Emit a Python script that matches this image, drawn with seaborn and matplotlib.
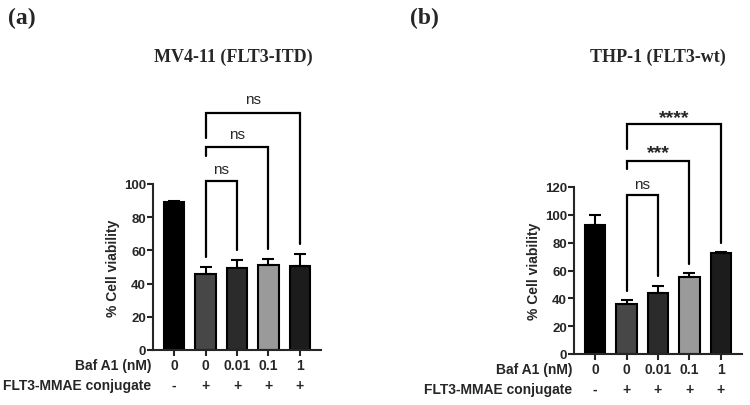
import numpy as np
import pandas as pd
import matplotlib
matplotlib.use("Agg")
import matplotlib.pyplot as plt
import matplotlib.transforms as mtransforms
import seaborn as sns

# Data
baf_labels = ["0", "0", "0.01", "0.1", "1"]
conj_labels = ["-", "+", "+", "+", "+"]
groups = ["g0", "g1", "g2", "g3", "g4"]
bar_colors = ["#000000", "#474747", "#2b2b2b", "#9a9a9a", "#1c1c1c"]

mv4_mean = [89, 45.5, 49.5, 51.5, 50.5]
mv4_err = [1, 4.5, 4.5, 3.5, 7.5]
thp_mean = [93, 36, 44, 55.5, 72.5]
thp_err = [7, 2.5, 5, 3, 1]

# brackets: (i, j, top, left leg end, right leg end, label, label y)
mv4_brackets = [
    (1, 2, 102, 56, 60, "ns", 109),
    (1, 3, 122, 117, 61, "ns", 130),
    (1, 4, 143, 128, 64, "ns", 151),
]
thp_brackets = [
    (1, 2, 114, 45, 56, "ns", 122),
    (1, 3, 139, 133, 65, "***", 145),
    (1, 4, 165, 147, 80, "****", 170),
]

sns.set_theme(style="ticks")
plt.rcParams["font.family"] = ["Liberation Sans", "DejaVu Sans"]

fig = plt.figure(figsize=(7.5, 4.06), dpi=100)


def panel(rect, means, errs, ymax, ystep, brackets, title, letter, letter_x, title_x):
    ax = fig.add_axes(rect)
    df = pd.DataFrame({"group": groups, "val": means})
    sns.barplot(data=df, x="group", y="val", hue="group", palette=bar_colors,
                errorbar=None, width=0.66, edgecolor="black", linewidth=1.5,
                legend=False, ax=ax)
    ax.errorbar(range(len(means)), means, yerr=[[0] * len(errs), errs],
                fmt="none", ecolor="black", elinewidth=1.5, capsize=4, capthick=1.5)
    ax.set_ylim(0, ymax)
    ax.set_xlim(-0.67, 4.67)
    ax.set_yticks(np.arange(0, ymax + 1, ystep))
    ax.set_xticks(range(5))
    ax.set_xticklabels([])
    ax.set_xlabel("")
    ax.set_ylabel("% Cell viability", fontsize=10, fontweight="bold", labelpad=3)
    for lbl in ax.get_yticklabels():
        lbl.set_fontweight("bold")
    ax.tick_params(axis="y", labelsize=9.5, width=1.5, length=4, pad=1)
    ax.tick_params(axis="x", width=1.5, length=4)
    sns.despine(ax=ax)
    for s in ["left", "bottom"]:
        ax.spines[s].set_linewidth(1.5)

    # row labels under the bars
    trans = mtransforms.blended_transform_factory(ax.transData, ax.transAxes)
    for k in range(5):
        ax.text(k, -0.09, baf_labels[k], transform=trans, ha="center", va="center",
                fontsize=10, fontweight="bold")
        ax.text(k, -0.21, conj_labels[k], transform=trans, ha="center", va="center",
                fontsize=10, fontweight="bold")
    ax.text(-0.72, -0.09, "Baf A1 (nM)", transform=trans, ha="right", va="center",
            fontsize=10, fontweight="bold")
    ax.text(-0.72, -0.21, "FLT3-MMAE conjugate", transform=trans, ha="right", va="center",
            fontsize=10, fontweight="bold")

    # significance brackets
    for i, j, top, yl, yr, lab, ly in brackets:
        ax.plot([i, i, j, j], [yl, top, top, yr], color="black", lw=1.6,
                clip_on=False, solid_joinstyle="miter")
        if "*" in lab:
            ax.text((i + j) / 2, ly, lab, ha="center", va="center", fontsize=14,
                    fontweight="bold")
        else:
            ax.text((i + j) / 2, ly, lab, ha="center", va="center", fontsize=11)

    fig.text(title_x, 1 - 57 / 406, title, ha="center", va="center",
             fontsize=13, fontweight="bold", family=["Liberation Serif", "DejaVu Serif"])
    fig.text(letter_x, 1 - 18 / 406, letter, ha="left", va="center",
             fontsize=17, fontweight="bold", family=["Liberation Serif", "DejaVu Serif"])
    return ax


panel([153 / 750, 1 - 351 / 406, 168 / 750, 166 / 406], mv4_mean, mv4_err, 100, 20,
      mv4_brackets, "MV4-11 (FLT3-ITD)", "(a)", 8 / 750, 233 / 750)
panel([574 / 750, 1 - 355 / 406, 168 / 750, 167 / 406], thp_mean, thp_err, 120, 20,
      thp_brackets, "THP-1 (FLT3-wt)", "(b)", 410 / 750, 658 / 750)

fig.savefig("out.png", dpi=100)
